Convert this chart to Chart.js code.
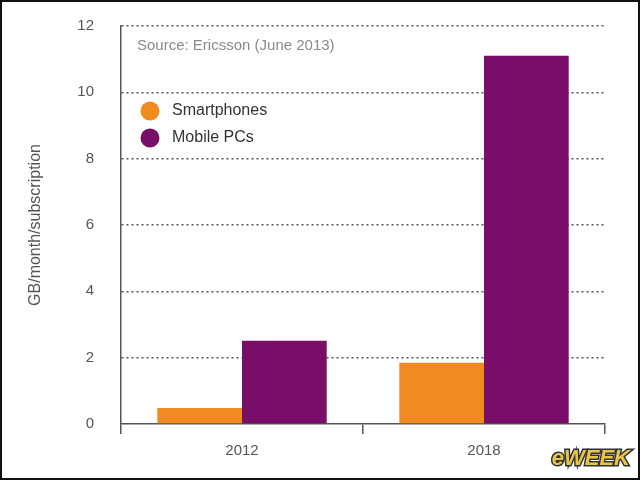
<!DOCTYPE html>
<html>
<head>
<meta charset="utf-8">
<script src="https://cdn.jsdelivr.net/npm/chart.js@4"></script>
<style>
  html, body { margin: 0; padding: 0; background: #fff; }
  #wrap { width: 640px; height: 480px; position: relative; }
</style>
</head>
<body>
<div id="wrap"><canvas id="chart" width="640" height="480"></canvas></div>
<script>
// ── Data ──
const years = ['2012', '2018'];
const smartphones = [0.48, 1.85];
const mobilePCs = [2.51, 11.1];
const seriesNames = ['Smartphones', 'Mobile PCs'];
const yTicks = [0, 2, 4, 6, 8, 10, 12];
const sourceNote = 'Source: Ericsson (June 2013)';

const ORANGE = '#F28B1F';
const PURPLE = '#790E68';
const FONT = '"Liberation Sans", Arial, Helvetica, sans-serif';

// ── Overlay: source note, in-plot legend, frame, logo ──
const overlay = {
  id: 'overlay',
  afterDraw: function(chart) {
    const ctx = chart.ctx;
    ctx.save();
    ctx.textBaseline = 'middle';
    ctx.textAlign = 'left';

    ctx.font = '15px ' + FONT;
    ctx.fillStyle = '#8a8a8a';
    ctx.fillText(sourceNote, 137, 46);

    chart.data.datasets.forEach(function(ds, i) {
      const y = 111 + i * 27;
      ctx.beginPath();
      ctx.arc(150, y, 9.5, 0, Math.PI * 2);
      ctx.fillStyle = ds.backgroundColor;
      ctx.fill();
      ctx.font = '16px ' + FONT;
      ctx.fillStyle = '#333';
      ctx.fillText(ds.label, 172, y);
    });

    // eWEEK mark
    ctx.font = 'italic bold 22px ' + FONT;
    ctx.textAlign = 'right';
    ctx.lineWidth = 3;
    ctx.strokeStyle = '#333';
    ctx.strokeText('eWEEK', 630, 459);
    ctx.fillStyle = '#E8C547';
    ctx.fillText('eWEEK', 630, 459);

    // frame
    ctx.lineWidth = 2;
    ctx.strokeStyle = '#111';
    ctx.strokeRect(1, 1, 638, 478);
    ctx.restore();
  }
};

new Chart(document.getElementById('chart'), {
  type: 'bar',
  data: {
    labels: years,
    datasets: [
      { label: seriesNames[0], data: smartphones, backgroundColor: ORANGE },
      { label: seriesNames[1], data: mobilePCs, backgroundColor: PURPLE }
    ]
  },
  options: {
    responsive: false,
    animation: false,
    layout: { padding: { left: 0, right: 35, top: 26, bottom: 0 } },
    datasets: { bar: { categoryPercentage: 0.7, barPercentage: 1.0 } },
    plugins: { legend: { display: false }, tooltip: { enabled: false } },
    scales: {
      x: {
        afterFit: function(s) { s.height = 56; s.paddingLeft = 0; s.paddingRight = 0; },
        grid: { offset: true, drawOnChartArea: false, drawTicks: true, tickLength: 10, color: '#555', lineWidth: 1.5 },
        border: { display: true, color: '#555', width: 1.5 },
        ticks: { color: '#555', font: { family: FONT, size: 15 }, padding: 8 }
      },
      y: {
        min: 0, max: 12,
        afterFit: function(s) { s.width = 121; s.paddingTop = 0; s.paddingBottom = 0; },
        afterBuildTicks: function(s) { s.ticks = yTicks.map(function(v) { return { value: v }; }); },
        grid: { drawTicks: false, color: function(c) { return c.tick.value === 0 ? 'rgba(0,0,0,0)' : '#555'; }, lineWidth: 1.5 },
        border: { display: true, color: '#555', width: 1.5, dash: [2, 3] },
        ticks: { color: '#555', font: { family: FONT, size: 15 }, padding: 27 },
        title: { display: true, text: 'GB/month/subscription', color: '#555', font: { family: FONT, size: 16 }, padding: { top: 26, bottom: 0 } }
      }
    }
  },
  plugins: [overlay]
});
</script>
</body>
</html>
